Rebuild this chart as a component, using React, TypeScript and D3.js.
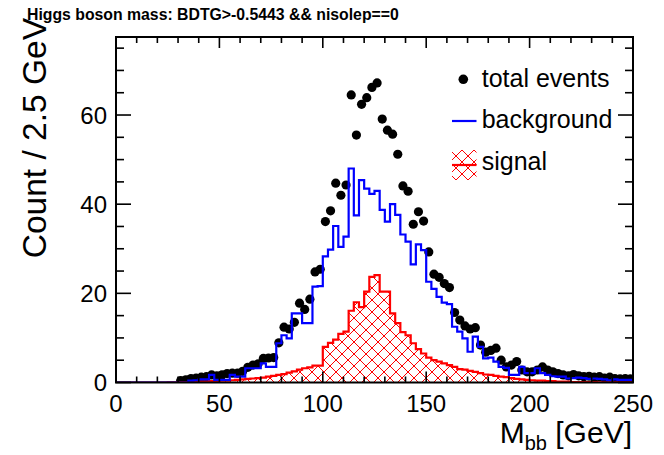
import React from "react";
import * as d3 from "d3";

const BIN_WIDTH = 2.5;
const N_BINS = 100;

// total events per 2.5 GeV bin (null = empty bin, no marker)
const totalEvents: (number | null)[] = [
  null, null, null, null, null, null, null, null, null, null,
  null, null, 0.4, 0.6, 0.9, 1.0, 1.2, 1.3, 1.7, 1.5,
  1.7, 2.0, 2.1, 2.1, 2.5, 3.4, 3.9, 4.2, 5.4, 5.5,
  5.6, 8.9, 12.4, 12.0, 13.5, 17.8, 16.4, 18.7, 24.8, 25.4,
  36.1, 38.5, 44.7, 42.0, 44.3, 64.5, 55.5, 62.4, 63.9, 66.2,
  67.2, 59.1, 56.6, 55.7, 51.2, 44.1, 42.9, 35.5, 38.3, 36.2,
  29.3, 24.3, 23.6, 22.2, 21.3, 15.7, 14.0, 12.7, 12.0, 12.3,
  8.4, 6.8, 7.2, 7.7, 5.0, 3.5, 3.9, 4.7, 2.8, 2.4,
  2.4, 2.8, 3.5, 2.8, 2.4, 2.0, 1.7, 1.5, 1.8, 1.5,
  1.3, 1.4, 1.2, 1.3, 1.0, 1.2, 0.9, 0.8, 0.9, 0.8,
];

const background: number[] = [
  0, 0, 0, 0, 0, 0, 0, 0, 0, 0,
  0, 0, 0, 0, 0.4, 0.5, 0.7, 0.7, 1.7, 0.6,
  0.6, 0.6, 1.7, 1.3, 1.3, 3.2, 3.2, 3.2, 4.3, 3.5,
  3.5, 8.8, 10.6, 9.9, 15.5, 15.5, 13.3, 13.3, 21.5, 21.6,
  28.3, 29.8, 35.1, 30.4, 32.7, 48.0, 37.5, 45.4, 43.5, 42.3,
  43.0, 38.7, 36.1, 40.0, 37.6, 33.2, 31.6, 26.5, 31.0, 29.7,
  22.6, 21.0, 19.2, 17.9, 17.6, 12.5, 11.4, 9.9, 6.9, 10.3,
  8.0, 5.4, 5.6, 4.7, 3.5, 3.3, 1.7, 1.7, 3.5, 2.1,
  2.1, 3.2, 2.1, 1.7, 1.4, 1.3, 1.3, 0.9, 1.0, 1.1,
  1.0, 0.8, 0.9, 0.8, 0.7, 0.5, 0.7, 0.6, 0.6, 0.6,
];

const signal: number[] = [
  0, 0, 0, 0, 0, 0, 0, 0, 0, 0,
  0.05, 0.05, 0.1, 0.1, 0.1, 0.15, 0.2, 0.2, 0.3, 0.3,
  0.4, 0.4, 0.5, 0.6, 0.7, 0.8, 0.9, 1.0, 1.1, 1.3,
  1.5, 1.7, 1.9, 2.2, 2.5, 2.9, 3.2, 3.4, 3.8, 3.8,
  8.0, 8.9, 9.6, 10.9, 11.4, 16.1, 18.0, 16.9, 20.4, 23.7,
  24.1, 20.4, 20.4, 15.5, 13.3, 11.3, 10.6, 8.8, 7.5, 6.5,
  5.6, 5.0, 4.7, 4.3, 3.9, 3.5, 3.0, 2.9, 2.6, 2.4,
  2.1, 1.8, 1.7, 1.5, 1.3, 1.2, 1.0, 0.8, 0.7, 0.6,
  0.5, 0.4, 0.4, 0.3, 0.3, 0.2, 0.2, 0.2, 0.1, 0.1,
  0.1, 0.1, 0.1, 0.05, 0.05, 0.05, 0.05, 0.05, 0.05, 0.05,
];

const xMajorTicks = [0, 50, 100, 150, 200, 250];
const yMajorTicks = [0, 20, 40, 60];
const legendLabels = ["total events", "background", "signal"];
const titleText = "Higgs boson mass: BDTG>-0.5443 && nisolep==0";
const yTitle = "Count / 2.5 GeV";

const W = 664;
const H = 455;
const L = 116, R = 633, T = 37, B = 382.5;
const FONT = "'Liberation Sans', Arial, Helvetica, sans-serif";
const HP = 12; // hatch period

export default function App() {
  const x = d3.scaleLinear().domain([0, 250]).range([L, R]);
  const y = d3.scaleLinear().domain([0, 77.5]).range([B, T]);
  const edges = d3.range(N_BINS + 1).map((i) => i * BIN_WIDTH);

  const stepPath = (vals: number[]) => {
    let d = `M${x(edges[0])},${y(0)}`;
    vals.forEach((v, i) => {
      d += `V${y(v)}H${x(edges[i + 1])}`;
    });
    d += `V${y(0)}`;
    return d;
  };
  const stepArea = (vals: number[]) => stepPath(vals) + "Z";

  const xMinor = d3.range(0, 251, 10).filter((v) => v % 50 !== 0);
  const yMinor = d3.range(0, 76, 5).filter((v) => v % 20 !== 0);

  return (
    <svg width={W} height={H} style={{ display: "block", position: "absolute", left: 0, top: 0 }}>
      <defs>
        <pattern id="hatch" patternUnits="userSpaceOnUse" width={HP} height={HP}>
          <path
            d={`M0,0L${HP},${HP}M${HP},0L0,${HP}M-1,${HP - 1}L1,${HP + 1}M${HP - 1},-1L${HP + 1},1`}
            stroke="#ff0000"
            strokeWidth="1"
            fill="none"
          />
        </pattern>
        <clipPath id="frameClip">
          <rect x={L} y={T} width={R - L} height={B - T} />
        </clipPath>
      </defs>
      <rect x={0} y={0} width={W} height={H} fill="#fff" />
      <text x={27} y={20} fontFamily={FONT} fontWeight="bold" fontSize={15.8} fill="#000">
        {titleText}
      </text>

      <g clipPath="url(#frameClip)">
        {totalEvents.map((v, i) =>
          v === null ? null : (
            <circle key={i} cx={x(edges[i] + BIN_WIDTH / 2)} cy={y(v)} r={4.6} fill="#000" />
          )
        )}
        <path d={stepArea(signal)} fill="url(#hatch)" stroke="none" />
        <path d={stepPath(signal)} fill="none" stroke="#ff0000" strokeWidth={2.2} />
        <path d={stepPath(background)} fill="none" stroke="#0000ff" strokeWidth={2.2} />
      </g>

      <rect x={L} y={T} width={R - L} height={B - T} fill="none" stroke="#000" strokeWidth={2} />
      {xMajorTicks.map((t) => (
        <g key={"xm" + t}>
          <line x1={x(t)} x2={x(t)} y1={B} y2={B - 11} stroke="#000" strokeWidth={1.6} />
          <line x1={x(t)} x2={x(t)} y1={T} y2={T + 11} stroke="#000" strokeWidth={1.6} />
          <text x={x(t)} y={412} textAnchor="middle" fontFamily={FONT} fontSize={24} fill="#000">
            {t}
          </text>
        </g>
      ))}
      {xMinor.map((t) => (
        <g key={"xn" + t}>
          <line x1={x(t)} x2={x(t)} y1={B} y2={B - 6} stroke="#000" strokeWidth={1.6} />
          <line x1={x(t)} x2={x(t)} y1={T} y2={T + 6} stroke="#000" strokeWidth={1.6} />
        </g>
      ))}
      {yMajorTicks.map((t) => (
        <g key={"ym" + t}>
          <line x1={L} x2={L + 15} y1={y(t)} y2={y(t)} stroke="#000" strokeWidth={1.6} />
          <line x1={R} x2={R - 15} y1={y(t)} y2={y(t)} stroke="#000" strokeWidth={1.6} />
          <text x={107} y={y(t) + 8.5} textAnchor="end" fontFamily={FONT} fontSize={24} fill="#000">
            {t}
          </text>
        </g>
      ))}
      {yMinor.map((t) => (
        <g key={"yn" + t}>
          <line x1={L} x2={L + 8} y1={y(t)} y2={y(t)} stroke="#000" strokeWidth={1.6} />
          <line x1={R} x2={R - 8} y1={y(t)} y2={y(t)} stroke="#000" strokeWidth={1.6} />
        </g>
      ))}

      <text x={632} y={443} textAnchor="end" fontFamily={FONT} fontSize={30} fill="#000">
        M<tspan fontSize={20} dy={7}>bb</tspan>
        <tspan dy={-7}> [GeV]</tspan>
      </text>
      <text
        transform={`translate(46,18) rotate(-90)`}
        textAnchor="end"
        fontFamily={FONT}
        fontSize={33.5}
        fill="#000"
      >
        {yTitle}
      </text>

      <circle cx={463.3} cy={79.3} r={4.8} fill="#000" />
      <text x={481.7} y={87.3} fontFamily={FONT} fontSize={25} fill="#000">{legendLabels[0]}</text>
      <line x1={452} x2={476.5} y1={121} y2={121} stroke="#0000ff" strokeWidth={2.2} />
      <text x={481.7} y={128.3} fontFamily={FONT} fontSize={25} fill="#000">{legendLabels[1]}</text>
      <rect x={452} y={150} width={24.5} height={30} fill="url(#hatch)" />
      <line x1={452} x2={476.5} y1={165} y2={165} stroke="#ff0000" strokeWidth={2.2} />
      <text x={481.7} y={169.5} fontFamily={FONT} fontSize={25} fill="#000">{legendLabels[2]}</text>
    </svg>
  );
}
